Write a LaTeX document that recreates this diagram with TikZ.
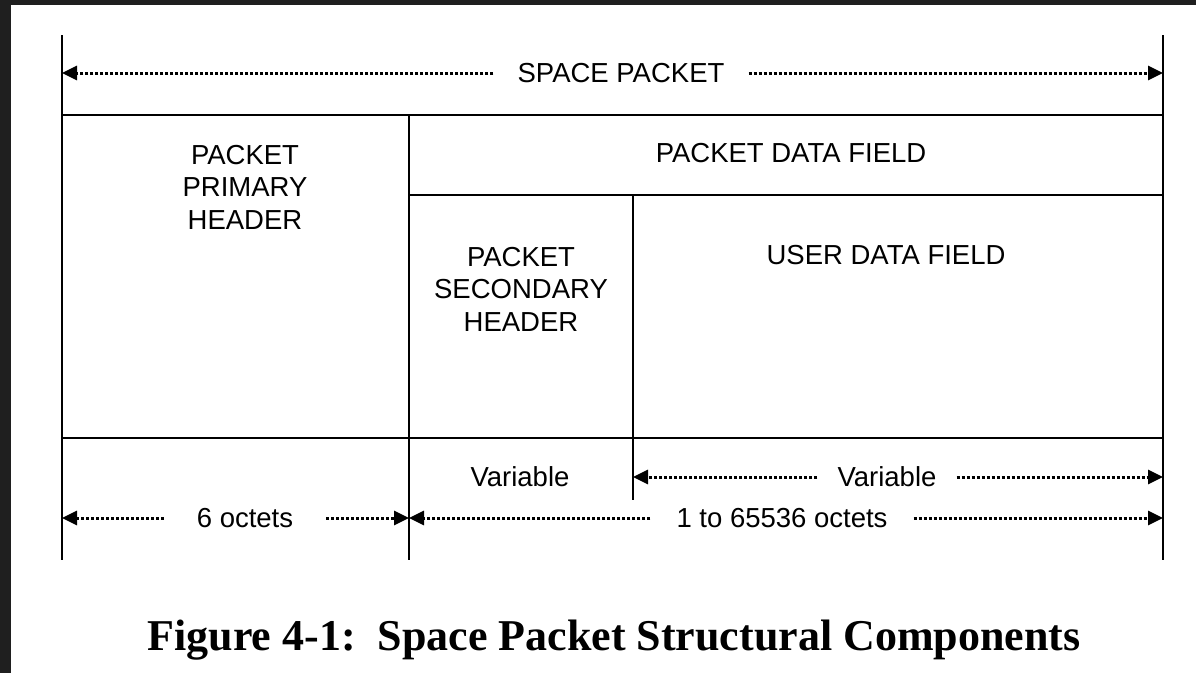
\documentclass[tikz,border=0pt]{standalone}
\usepackage{fontspec}
\setmainfont{Liberation Sans}
\newfontfamily\capfont{Liberation Serif}
\usetikzlibrary{arrows.meta}

\begin{document}
\begin{tikzpicture}[x=1pt,y=-1pt,
        rule/.style={line width=2.6pt},
        dim/.style={line width=3pt,dash pattern=on 3pt off 2pt,
            -{Triangle[length=15pt,width=14pt]}},
        lbl/.style={font=\fontsize{27.5}{32.5}\selectfont,align=center,inner sep=0pt},
        gap/.style={lbl,inner xsep=#1,fill=white},
        gap/.default=24pt]
    \fill [black!88] (0,0) rectangle (1196,673);
    \fill [white] (11,5) rectangle (1196,673);
    \useasboundingbox (0,0) rectangle (1196,673);
    % ends of the rules
    \coordinate (ltop) at (62,35);
    \coordinate (lbot) at (62,560);
    \coordinate (rtop) at (1163,35);
    \coordinate (rbot) at (1163,560);
    \coordinate (ptop) at (409,115);
    \coordinate (pbot) at (409,560);
    \coordinate (stop) at (633,195);
    \coordinate (sbot) at (633,500);
    \coordinate (hal) at (62,115);
    \coordinate (har) at (1163,115);
    \coordinate (hbl) at (409,195);
    \coordinate (hbr) at (1163,195);
    \coordinate (hcl) at (62,438);
    \coordinate (hcr) at (1163,438);
    \draw [rule] (ltop) -- (lbot);
    \draw [rule] (rtop) -- (rbot);
    \draw [rule] (ptop) -- (pbot);
    \draw [rule] (stop) -- (sbot);
    \draw [rule] (hal) -- (har);
    \draw [rule] (hbl) -- (hbr);
    \draw [rule] (hcl) -- (hcr);
    % field names
    \node [lbl] (pph) at (245,187) {PACKET\\PRIMARY\\HEADER};
    \node [lbl] (pdf) at (791,153) {PACKET DATA FIELD};
    \node [lbl] (psh) at (521,289) {PACKET\\SECONDARY\\HEADER};
    \node [lbl] (udf) at (886,255) {USER DATA FIELD};
    \node [lbl] (var) at (520,477) {Variable};
    % lengths
    \node [gap] (spk) at (621,73) {SPACE PACKET};
    \coordinate (spkl) at (62,73);
    \coordinate (spkr) at (1163,73);
    \path (spk) edge [dim] (spkl);
    \path (spk) edge [dim] (spkr);
    \node [gap=20pt] (udl) at (887,477) {Variable};
    \coordinate (udll) at (633,477);
    \coordinate (udlr) at (1163,477);
    \path (udl) edge [dim] (udll);
    \path (udl) edge [dim] (udlr);
    \node [gap=33pt] (six) at (245,518) {6 octets};
    \coordinate (sixl) at (62,518);
    \coordinate (sixr) at (409,518);
    \path (six) edge [dim] (sixl);
    \path (six) edge [dim] (sixr);
    \node [gap=26pt] (pdl) at (782,518) {1 to 65536 octets};
    \coordinate (pdll) at (409,518);
    \coordinate (pdlr) at (1163,518);
    \path (pdl) edge [dim] (pdll);
    \path (pdl) edge [dim] (pdlr);
    % caption
    \node [inner sep=0pt,anchor=base,font=\capfont\bfseries\fontsize{44}{50}\selectfont] (cap) at (614,650)
        {Figure 4-1:\ \ Space Packet Structural Components};
\end{tikzpicture}
\end{document}
